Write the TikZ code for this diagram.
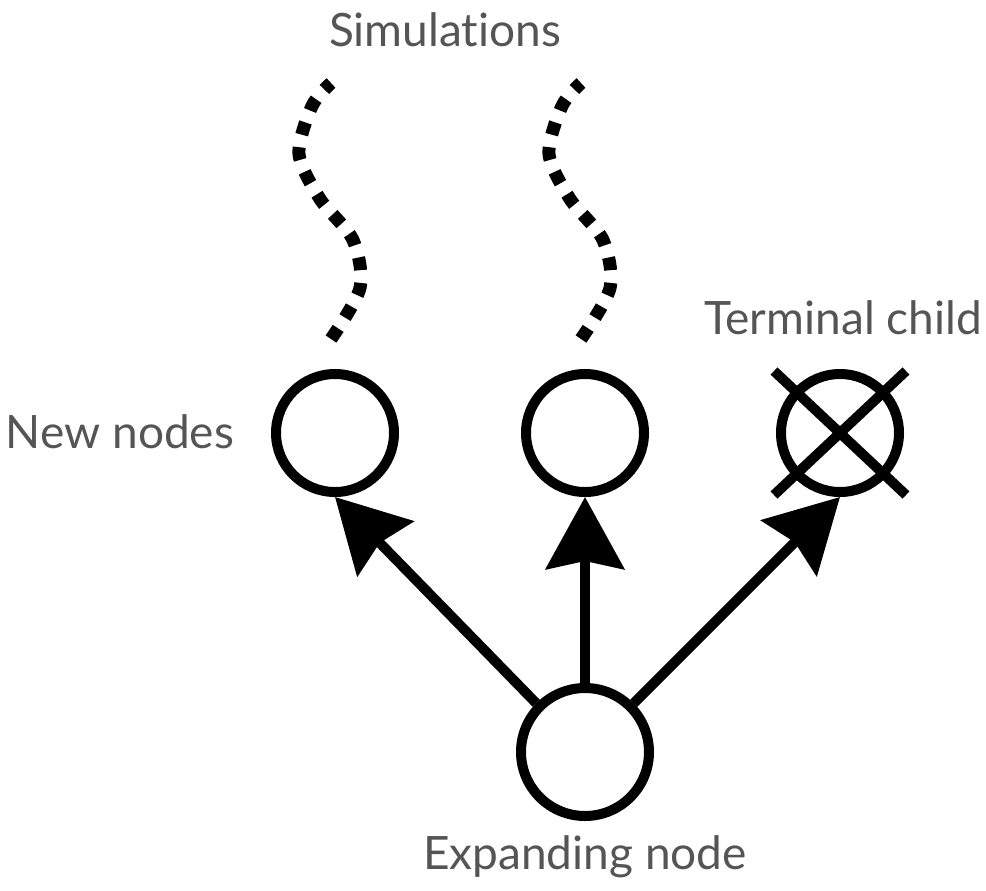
\documentclass[tikz,border=0pt]{standalone}
\usepackage{fontspec}
\setmainfont{Lato}[Ligatures=NoCommon]
\usetikzlibrary{arrows.meta}
\definecolor{labelgray}{HTML}{555555}

\begin{document}
\begin{tikzpicture}[x=0.5pt, y=-0.5pt,
            state/.style={draw=black, line width=5pt, circle, inner sep=0pt, minimum size=59pt},
            expand/.style={state, minimum size=64pt},
            edge/.style={-{Stealth[length=36pt, width=39pt, inset=4pt]}, line width=5pt},
            rollout/.style={line width=6.5pt, dash pattern=on 6.4pt off 6.4pt},
            caption/.style={text=labelgray, font=\fontsize{23}{27}\selectfont}]
            \useasboundingbox (0, 0) rectangle (986, 890);
            % tree
            \node[state] (n1) at (335, 433) {};
            \node[state] (n2) at (585, 433) {};
            \node[state] (t) at (840, 433) {};
            \node[expand] (root) at (585, 752) {};
            \draw[line width=5pt] ([shift={(-66, -62)}]t.center) -- ([shift={(66, 62)}]t.center);
            \draw[line width=5pt] ([shift={(66, -62)}]t.center) -- ([shift={(-66, 62)}]t.center);
            \draw[edge] (root.north west) -- (n1.south);
            \draw[edge] (root.north) -- (n2.south);
            \draw[edge] (root.north east) -- (t.south);
            % rollouts
            \foreach \n in {n1, n2}
                \draw[rollout, shift={(\n)}] plot[smooth] coordinates {(-4, -94) (25, -145) (18, -193) (-15, -234) (-36, -279) (-23, -327) (-4, -350)};
            % labels
            \node[caption] (simlabel) at (445, 30) {Simulations};
            \node[caption] (termlabel) at (843, 318) {Terminal child};
            \node[caption] (newlabel) at (120, 432) {New nodes};
            \node[caption] (rootlabel) at (585, 857) {Expanding node};
        \end{tikzpicture}
\end{document}
